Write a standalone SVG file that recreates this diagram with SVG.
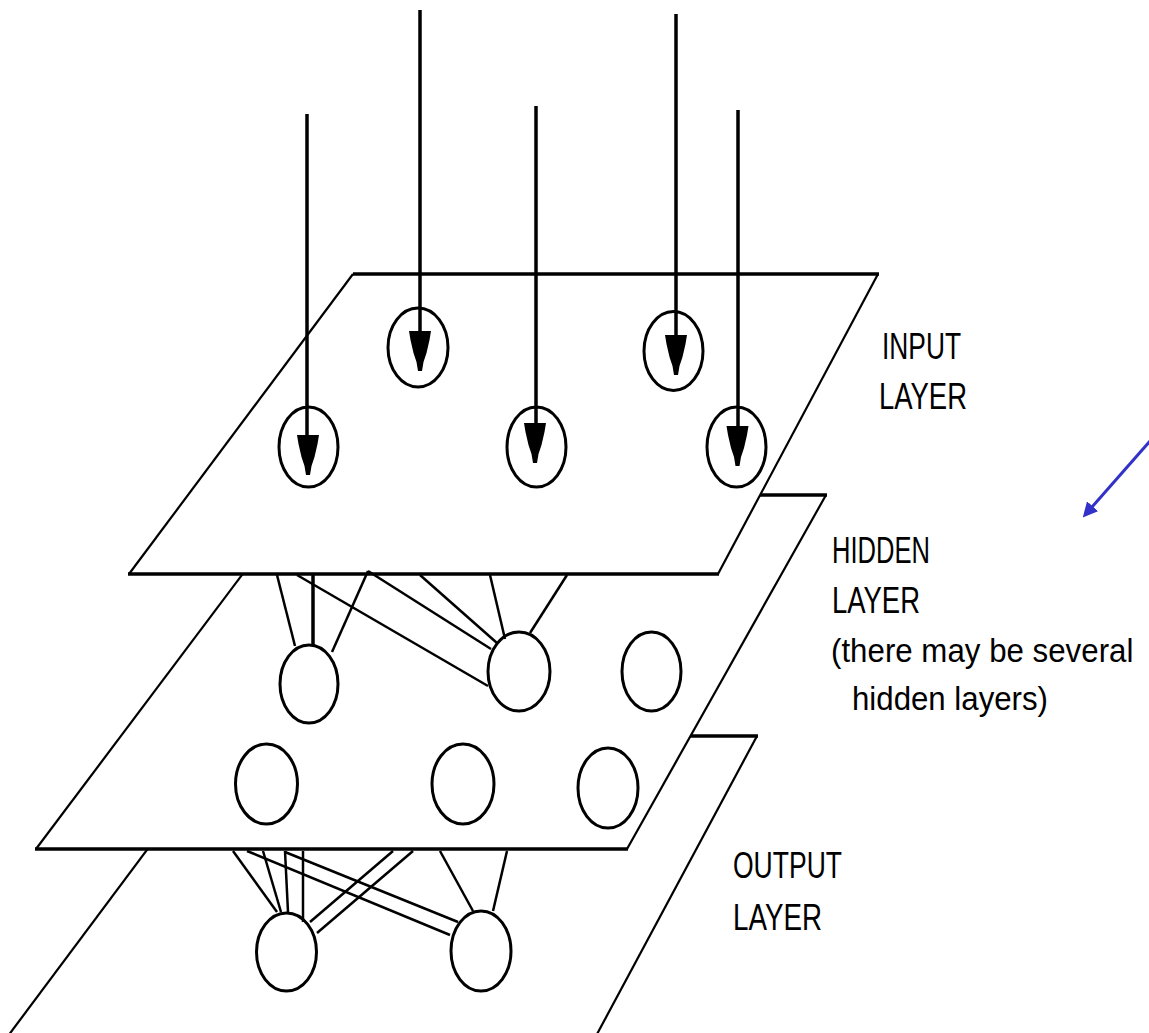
<svg xmlns="http://www.w3.org/2000/svg" width="1149" height="1033" viewBox="0 0 1149 1033">
  <style>
    .plane { fill: #ffffff; stroke: none; }
    .edge-h { stroke: #000; stroke-width: 3.5; fill: none; }
    .edge-s { stroke: #000; stroke-width: 2.2; fill: none; }
    .node { fill: none; stroke: #000; stroke-width: 3; }
    .feed { stroke: #000; stroke-width: 3.5; fill: none; }
    .link { stroke: #000; stroke-width: 2.5; fill: none; }
    .nib { fill: #000; }
    .label { font-family: "Liberation Sans", Arial, sans-serif; font-size: 37px; fill: #000; }
    .note { font-family: "Liberation Sans", Arial, sans-serif; font-size: 34px; fill: #000; }
    .pointer { stroke: #3232c8; stroke-width: 3; fill: none; }
  </style>
  <defs>
    <!-- pen-nib arrowhead drawn inside each input unit -->
    <path id="nib" d="M-11,0 L11,0 L9.5,9 L6.5,22 L3.5,31 L2,40 L-2,40 L-3.5,31 L-6.5,22 L-9.5,9 Z"/>
    <marker id="blue-head" markerUnits="userSpaceOnUse" viewBox="0 0 15 15" refX="1" refY="7.5" markerWidth="15" markerHeight="15" orient="auto">
      <path d="M0,0 L15,7.5 L0,15 Z" fill="#3232c8"/>
    </marker>
  </defs>

  <rect width="1149" height="1033" fill="#ffffff"/>

  <!-- output plane (back) -->
  <g id="output-layer">
    <polygon class="plane" points="232,736 757,736 592,1045 2,1045"/>
    <line class="edge-h" x1="232" y1="736" x2="758" y2="736"/>
    <line class="edge-s" x1="232" y1="736" x2="8" y2="1036"/>
    <line class="edge-s" x1="757" y1="736" x2="596" y2="1036"/>
  </g>

  <!-- hidden plane -->
  <g id="hidden-layer">
    <polygon class="plane" points="302,495 826,495 627,849 36,849"/>
    <line class="edge-h" x1="302" y1="495" x2="827" y2="495"/>
    <line class="edge-h" x1="35" y1="849" x2="628" y2="849"/>
    <line class="edge-s" x1="302" y1="495" x2="36" y2="849"/>
    <line class="edge-s" x1="826" y1="495" x2="627" y2="849"/>
  </g>

  <!-- input plane (front) -->
  <g id="input-layer">
    <polygon class="plane" points="353,274 878,274 718,574 129,574"/>
    <line class="edge-h" x1="353" y1="274" x2="879" y2="274"/>
    <line class="edge-h" x1="128" y1="574" x2="719" y2="574"/>
    <line class="edge-s" x1="353" y1="274" x2="129" y2="574"/>
    <line class="edge-s" x1="878" y1="274" x2="718" y2="574"/>
  </g>

  <!-- connectors -->
  <g id="connectors">
    <!-- incoming signals -->
    <line class="feed" x1="307" y1="114" x2="307" y2="440"/>
    <line class="feed" x1="420" y1="10" x2="420" y2="336"/>
    <line class="feed" x1="536" y1="106" x2="536" y2="428"/>
    <line class="feed" x1="676" y1="14" x2="676" y2="340"/>
    <line class="feed" x1="738" y1="110" x2="738" y2="431"/>

    <!-- input plane to hidden units -->
    <line class="link" x1="277" y1="575" x2="295" y2="646"/>
    <line class="feed" x1="313" y1="575" x2="313" y2="645"/>
    <line class="link" x1="297" y1="575" x2="488" y2="686"/>
    <line class="link" x1="368" y1="571" x2="332" y2="652"/>
    <line class="link" x1="368" y1="571" x2="491" y2="649"/>
    <line class="link" x1="420" y1="575" x2="497" y2="643"/>
    <line class="link" x1="490" y1="575" x2="505" y2="639"/>
    <line class="link" x1="567" y1="575" x2="530" y2="633"/>

    <!-- hidden plane to output units -->
    <line class="link" x1="233" y1="851" x2="277" y2="912"/>
    <line class="link" x1="263" y1="851" x2="281" y2="912"/>
    <line class="link" x1="285" y1="851" x2="288" y2="912"/>
    <line class="link" x1="303" y1="851" x2="303" y2="922"/>
    <line class="link" x1="285" y1="852" x2="458" y2="922"/>
    <line class="link" x1="247" y1="851" x2="450" y2="935"/>
    <line class="link" x1="393" y1="851" x2="310" y2="922"/>
    <line class="link" x1="413" y1="851" x2="317" y2="933"/>
    <line class="link" x1="440" y1="851" x2="473" y2="911"/>
    <line class="link" x1="507" y1="851" x2="493" y2="911"/>

    <!-- side pointer -->
    <line class="pointer" x1="1150" y1="441" x2="1092" y2="507" marker-end="url(#blue-head)"/>
  </g>

  <!-- input units -->
  <g id="input-1">
    <ellipse class="node" cx="308.5" cy="447" rx="29.5" ry="40"/>
    <use href="#nib" class="nib" transform="translate(308,435)"/>
  </g>
  <g id="input-2">
    <ellipse class="node" cx="418" cy="347.5" rx="30" ry="39.5"/>
    <use href="#nib" class="nib" transform="translate(420,331)"/>
  </g>
  <g id="input-3">
    <ellipse class="node" cx="536.5" cy="447" rx="29.5" ry="40"/>
    <use href="#nib" class="nib" transform="translate(535,423)"/>
  </g>
  <g id="input-4">
    <ellipse class="node" cx="673.5" cy="351" rx="29.5" ry="39.5"/>
    <use href="#nib" class="nib" transform="translate(676,335)"/>
  </g>
  <g id="input-5">
    <ellipse class="node" cx="736.5" cy="447" rx="29.5" ry="40"/>
    <use href="#nib" class="nib" transform="translate(737.5,426)"/>
  </g>

  <!-- hidden units -->
  <g id="hidden-1"><ellipse class="node" cx="309" cy="684" rx="29" ry="39"/></g>
  <g id="hidden-2"><ellipse class="node" cx="519" cy="671.5" rx="31" ry="39.5"/></g>
  <g id="hidden-3"><ellipse class="node" cx="651.5" cy="671.5" rx="29.5" ry="39.5"/></g>
  <g id="hidden-4"><ellipse class="node" cx="266.5" cy="784" rx="31" ry="40"/></g>
  <g id="hidden-5"><ellipse class="node" cx="463" cy="784" rx="31" ry="40"/></g>
  <g id="hidden-6"><ellipse class="node" cx="608" cy="788" rx="30" ry="40"/></g>

  <!-- output units -->
  <g id="output-1"><ellipse class="node" cx="286.5" cy="952" rx="30" ry="39"/></g>
  <g id="output-2"><ellipse class="node" cx="481" cy="951" rx="30" ry="40"/></g>

  <!-- layer captions -->
  <g id="labels">
    <text class="label" x="882" y="359" textLength="79" lengthAdjust="spacingAndGlyphs">INPUT</text>
    <text class="label" x="879" y="409" textLength="88" lengthAdjust="spacingAndGlyphs">LAYER</text>
    <text class="label" x="832" y="563" textLength="98" lengthAdjust="spacingAndGlyphs">HIDDEN</text>
    <text class="label" x="832" y="613" textLength="88" lengthAdjust="spacingAndGlyphs">LAYER</text>
    <text class="note" transform="translate(831,662) scale(0.92,1)" x="0" y="0">(there may be several</text>
    <text class="note" x="852" y="710" textLength="196" lengthAdjust="spacingAndGlyphs">hidden layers)</text>
    <text class="label" x="733" y="878" textLength="109" lengthAdjust="spacingAndGlyphs">OUTPUT</text>
    <text class="label" x="733" y="930" textLength="89" lengthAdjust="spacingAndGlyphs">LAYER</text>
  </g>
</svg>
